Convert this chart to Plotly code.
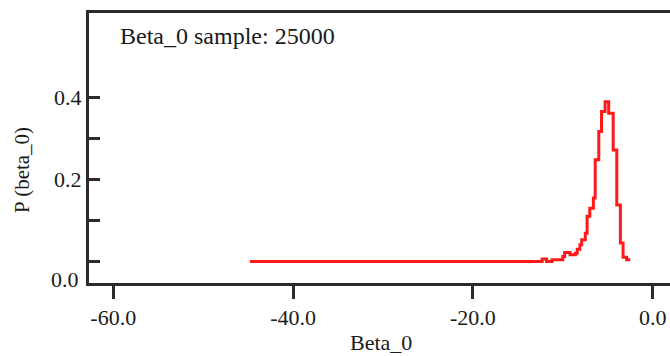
import plotly.graph_objects as go

# Data
beta0_x = [-44.8, -12.3, -11.8, -11.2, -10.0, -9.8, -9.2, -8.6, -8.4, -8.1, -7.9, -7.5,
           -7.3, -7.0, -6.6, -6.4, -6.0, -5.7, -5.3, -4.9, -4.4, -4.0, -3.6, -3.3, -2.9, -2.5]
beta0_p = [0.0, 0.006, 0.0, 0.004, 0.012, 0.022, 0.016, 0.020, 0.030, 0.041, 0.053, 0.069,
           0.110, 0.130, 0.155, 0.248, 0.317, 0.366, 0.390, 0.362, 0.272, 0.138, 0.045, 0.010,
           0.004, 0.004]

x_tickvals = [-60, -40, -20, 0]
x_ticktext = ["-60.0", "-40.0", "-20.0", "0.0"]
y_tickvals = [0.0, 0.1, 0.2, 0.3, 0.4]
y_ticktext = ["", "", "0.2", "", "0.4"]

W, H = 670, 356
L, T, B = 89, 13, 73
FONT = "Liberation Serif"
TXT = "#1a1a1a"
AX = "#2b2b2b"

fig = go.Figure()
fig.add_trace(go.Scatter(x=beta0_x, y=beta0_p, mode="lines", line_shape="hv",
                         line=dict(color="rgb(255,25,25)", width=3), showlegend=False))

fig.update_layout(
    width=W, height=H, margin=dict(l=L, r=0, t=T, b=B),
    paper_bgcolor="white", plot_bgcolor="white",
    font=dict(family=FONT, size=22, color=TXT),
    xaxis=dict(range=[-62.7, 1.92], tickvals=x_tickvals, ticktext=x_ticktext,
               ticks="outside", ticklen=13, tickwidth=3, tickcolor=AX,
               showline=True, linewidth=3, linecolor=AX, mirror=True,
               showgrid=False, zeroline=False,
               tickfont=dict(family=FONT, size=22, color=TXT)),
    yaxis=dict(range=[-0.0527, 0.6066], tickvals=y_tickvals, ticktext=y_ticktext,
               ticks="inside", ticklen=11, tickwidth=3, tickcolor=AX,
               showline=True, linewidth=3, linecolor=AX, mirror=False,
               showgrid=False, zeroline=False,
               tickfont=dict(family=FONT, size=22, color=TXT)),
)

# annotations in paper pixel positions
def px(xp):
    return (xp - L) / (W - L)

def py(yp):
    return 1 - (yp - T) / (H - T - B)

fig.add_annotation(text="Beta_0 sample: 25000", x=px(118), y=py(36), xref="paper", yref="paper",
                   xanchor="left", yanchor="middle", showarrow=False,
                   font=dict(family=FONT, size=24, color=TXT))
fig.add_annotation(text="0.0", x=px(81), y=py(279), xref="paper", yref="paper",
                   xanchor="right", yanchor="middle", showarrow=False,
                   font=dict(family=FONT, size=22, color=TXT))
fig.add_annotation(text="P (beta_0)", x=px(22), y=py(170), xref="paper", yref="paper",
                   xanchor="center", yanchor="middle", textangle=-90, showarrow=False,
                   font=dict(family=FONT, size=21, color=TXT))
fig.add_annotation(text="Beta_0", x=px(381), y=py(342), xref="paper", yref="paper",
                   xanchor="center", yanchor="middle", showarrow=False,
                   font=dict(family=FONT, size=22, color=TXT))

fig.write_html("out.html")
